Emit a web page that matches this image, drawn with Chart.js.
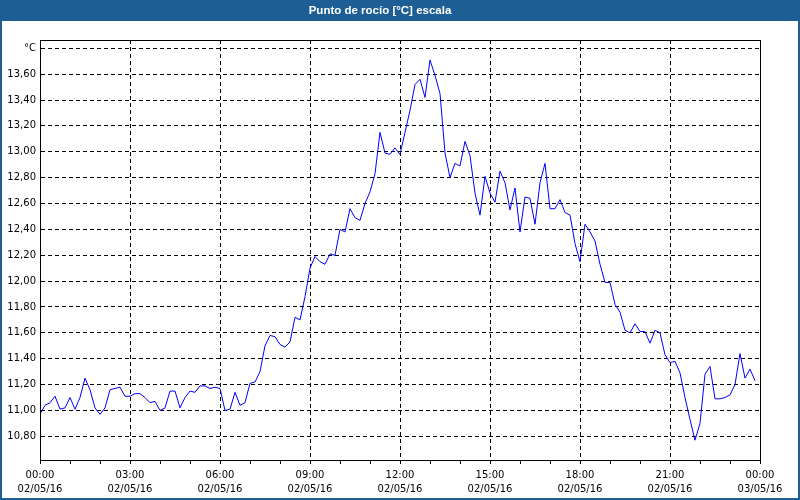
<!DOCTYPE html>
<html>
<head>
<meta charset="utf-8">
<script src="https://cdn.jsdelivr.net/npm/chart.js@4"></script>
<style>
html,body{margin:0;padding:0;background:#fff;}
#c{display:block;}
</style>
</head>
<body>
<canvas id="c" width="800" height="500"></canvas>
<script>
const chartTitle = 'Punto de rocío [°C] escala';
const yUnit = '°C';
const sampleStepMinutes = 10;
const dewPoint = [
  10.97, 11.04, 11.06, 11.11, 11.01, 11.02, 11.10, 11.01, 11.10, 11.25,
  11.16, 11.02, 10.97, 11.02, 11.16, 11.17, 11.18, 11.11, 11.11, 11.13,
  11.13, 11.10, 11.06, 11.07, 11.00, 11.02, 11.15, 11.15, 11.02, 11.10,
  11.15, 11.14, 11.19, 11.19, 11.17, 11.18, 11.17, 11.00, 11.01, 11.14,
  11.04, 11.06, 11.21, 11.22, 11.30, 11.50, 11.58, 11.57, 11.51, 11.49,
  11.53, 11.72, 11.70, 11.88, 12.10, 12.19, 12.15, 12.13, 12.21, 12.20,
  12.40, 12.38, 12.56, 12.49, 12.47, 12.60, 12.69, 12.83, 13.15, 12.99,
  12.98, 13.03, 12.98, 13.15, 13.32, 13.52, 13.56, 13.42, 13.71, 13.59,
  13.45, 12.99, 12.80, 12.91, 12.89, 13.08, 12.97, 12.68, 12.51, 12.81,
  12.68, 12.61, 12.85, 12.76, 12.55, 12.72, 12.38, 12.65, 12.64, 12.44,
  12.76, 12.91, 12.56, 12.56, 12.63, 12.53, 12.51, 12.29, 12.15, 12.44,
  12.38, 12.31, 12.13, 11.99, 11.99, 11.82, 11.76, 11.62, 11.60, 11.67,
  11.61, 11.61, 11.52, 11.62, 11.60, 11.43, 11.37, 11.38, 11.29, 11.10,
  10.93, 10.77, 10.90, 11.28, 11.34, 11.09, 11.09, 11.10, 11.12, 11.20,
  11.44, 11.25, 11.32, 11.23
];
const xTickTimes = ['00:00','03:00','06:00','09:00','12:00','15:00','18:00','21:00','00:00'];
const xTickDates = ['02/05/16','02/05/16','02/05/16','02/05/16','02/05/16','02/05/16','02/05/16','02/05/16','03/05/16'];
const yMin = 10.617, yMax = 13.864, yStep = 0.2, yUnitTick = 13.8;

const BLUE_BAR = '#1d5e95';

const framePlugin = {
  id: 'frame',
  beforeDraw(chart) {
    const ctx = chart.ctx, w = chart.width, h = chart.height;
    ctx.save();
    ctx.fillStyle = '#ffffff';
    ctx.fillRect(0, 0, w, h);
    ctx.fillStyle = BLUE_BAR;
    ctx.fillRect(0, 0, w, 21);
    ctx.fillRect(0, 0, 2, h);
    ctx.fillRect(w - 2, 0, 2, h);
    ctx.fillRect(0, h - 2, w, 2);
    ctx.restore();
  },
  afterDraw(chart) {
    const a = chart.chartArea, ctx = chart.ctx;
    ctx.save();
    ctx.strokeStyle = '#000';
    ctx.lineWidth = 1;
    ctx.setLineDash([]);
    ctx.strokeRect(a.left + 0.5, a.top + 0.5, a.right - a.left, a.bottom - a.top);
    ctx.restore();
  }
};

Chart.defaults.font.family = "'DejaVu Sans', Verdana, sans-serif";
Chart.defaults.font.size = 10;
Chart.defaults.color = '#000';

new Chart(document.getElementById('c'), {
  type: 'line',
  data: {
    datasets: [{
      data: dewPoint.map((v, i) => ({ x: i * sampleStepMinutes / 60, y: v })),
      borderColor: '#0000ff',
      borderWidth: 1,
      pointRadius: 0,
      tension: 0,
      fill: false
    }]
  },
  options: {
    responsive: false,
    animation: false,
    devicePixelRatio: 1,
    layout: { padding: { left: 0, right: 40, top: 0, bottom: 0 } },
    plugins: {
      legend: { display: false },
      tooltip: { enabled: false },
      title: {
        display: true,
        text: chartTitle,
        color: '#ffffff',
        font: { family: "'Liberation Sans', Arial, sans-serif", size: 11.5, weight: 'bold', lineHeight: 1.2 },
        padding: { top: 4, bottom: 22.2 }
      }
    },
    scales: {
      x: {
        type: 'linear',
        min: 0, max: 24,
        afterFit(scale) { scale.height = 40; },
        ticks: {
          stepSize: 1,
          autoSkip: false,
          maxRotation: 0,
          padding: 4,
          font: { size: 10, lineHeight: 1.45 },
          callback(v) { return v % 3 === 0 ? [xTickTimes[v / 3], xTickDates[v / 3]] : ''; }
        },
        grid: {
          drawTicks: true,
          tickLength: 4,
          tickColor: '#000',
          tickBorderDash: [],
          color(ctx) { return (ctx.tick && ctx.tick.value % 3 === 0) ? '#000' : 'rgba(0,0,0,0)'; },
          lineWidth: 1
        },
        border: { display: true, color: '#000', width: 1, dash: [4, 3] }
      },
      y: {
        type: 'linear',
        min: yMin, max: yMax,
        afterFit(scale) { scale.width = 40; },
        ticks: {
          stepSize: yStep,
          includeBounds: false,
          padding: 4,
          font: { size: 10 },
          callback(v) {
            if (Math.abs(v - yUnitTick) < 1e-6) return yUnit;
            return v.toFixed(2).replace('.', ',');
          }
        },
        grid: {
          drawTicks: false,
          color: '#000',
          lineWidth: 1
        },
        border: { display: true, color: '#000', width: 1, dash: [4, 3] }
      }
    }
  },
  plugins: [framePlugin]
});
</script>
</body>
</html>
